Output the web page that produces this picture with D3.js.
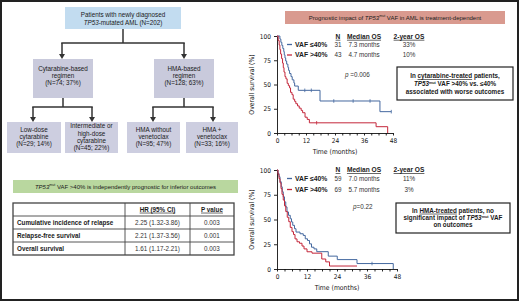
<!DOCTYPE html>
<html><head><meta charset="utf-8">
<script src="https://cdn.jsdelivr.net/npm/d3@7"></script>
<style>
body{margin:0;background:#fff}
svg{display:block;font-family:'Liberation Sans',Arial,sans-serif}
.ax text{font-family:'Liberation Sans Narrow','DejaVu Sans Condensed','Liberation Sans',sans-serif;font-size:6.5px;fill:#111}
.ax path,.ax line{stroke:#111;stroke-width:0.9}
</style>
</head><body><div id="chart"></div>
<script>
// ---- data ----
const topLines = ['Patients with newly diagnosed', 'mutated AML (N=202)'];
const arms = ['Cytarabine-based', 'HMA-based'];
const armN = [74, 128], armPct = [37, 63];
const subLines = [['Low-dose','cytarabine'], ['Intermediate or','high-dose','cytarabine'], ['HMA without','venetoclax'], ['HMA +','venetoclax']];
const subN = [29, 45, 95, 33], subPct = [14, 22, 47, 16];

const rowNames = ['Cumulative incidence of relapse', 'Relapse-free survival', 'Overall survival'];
const hrCI = ['2.25 (1.32-3.86)', '2.21 (1.37-3.56)', '1.61 (1.17-2.21)'];
const pVals = ['0.003', '0.001', '0.003'];

const groups = ['VAF \u226440%', 'VAF >40%'];
const monthTicks = [0, 12, 24, 36, 48];
const survTicks = [0, 25, 50, 75, 100];

// cytarabine-treated: [month, % surviving] after each step
const cytLow = [[0,100],[1.2,96.8],[1.6,93.5],[2.0,90.3],[2.4,87.1],[2.8,83.9],[3.0,80.6],[3.3,77.4],[3.6,74.2],[4.0,71.0],[4.5,67.7],[4.8,64.5],[5.2,61.3],[5.8,58.1],[6.3,54.8],[7.0,51.6],[7.3,48.4],[8.8,44.0],[17.8,33.0],[42.6,22.0],[47.3,22.0]];
const cytHigh = [[0,100],[0.5,95.3],[0.9,90.7],[1.2,86.0],[1.5,81.4],[1.9,76.7],[2.3,72.1],[2.6,67.4],[2.9,62.8],[3.3,58.1],[3.7,55.8],[4.2,51.2],[4.7,48.8],[5.2,46.5],[5.6,41.9],[6.2,39.5],[6.7,34.9],[7.3,32.6],[7.8,30.2],[8.5,27.9],[9.2,25.6],[10.0,23.3],[10.6,20.9],[11.6,16.3],[12.5,14.0],[13.4,10.5],[41.0,6.5],[45.8,0]];
const cytLowCens = [[11.5,44],[14.2,44],[23.5,33],[31.5,33],[38.5,33],[47.3,22]];
const cytHighCens = [[16.4,10.5]];
const cytN = [31, 43], cytMed = ['7.3 months', '4.7 months'], cyt2y = ['33%', '10%'];

// HMA-treated
const hmaLow = [[0,100],[0.4,96.6],[0.8,93.2],[1.2,88.1],[1.7,83.0],[2.1,78.0],[2.5,72.9],[3.0,67.8],[3.5,62.7],[4.0,57.6],[4.6,54.2],[5.3,50.8],[5.8,47.5],[6.3,44.1],[7.0,40.7],[7.6,37.3],[9.2,35.6],[10.5,33.9],[11.3,30.5],[12.2,28.8],[13.0,25.4],[13.8,22.0],[14.8,20.3],[15.9,17.5],[20.5,13.0],[24.1,9.5],[32.0,5.5],[46.5,0]];
const hmaHigh = [[0,100],[0.4,95.7],[0.8,91.3],[1.2,87.0],[1.6,81.2],[2.0,75.4],[2.5,69.6],[3.0,63.8],[3.5,58.0],[4.1,52.2],[4.7,47.8],[5.3,42.0],[6.0,37.7],[6.6,34.8],[7.2,30.4],[8.0,27.5],[9.0,26.0],[10.0,23.2],[10.8,20.3],[12.0,17.4],[14.0,16.0],[17.9,10.1],[19.5,7.2],[21.0,3.0],[32.0,3.0]];
const hmaLowCens = [[38,5.5]];
const hmaHighCens = [];
const hmaN = [59, 69], hmaMed = ['7.0 months', '5.7 months'], hma2y = ['11%', '3%'];

const BLUE = '#44689f', RED = '#c4273b';

// ---- helpers ----
const svg = d3.select('#chart').append('svg').attr('width',520).attr('height',301);

function rich(sel, x, y, parts, o={}){
  const size = o.size || 6.3;
  const t = sel.append('text').attr('x',x).attr('y',y).attr('dy','0.35em')
    .attr('text-anchor', o.anchor || 'middle').attr('fill', o.fill || '#1a1a1a')
    .style('font-size', size+'px').style('font-weight', o.bold ? 'bold' : 'normal');
  let wasSup = false;
  (typeof parts === 'string' ? [parts] : parts).forEach(p=>{
    if(typeof p === 'string') p = {t:p};
    const s = t.append('tspan').text(p.t);
    if(p.i) s.style('font-style','italic');
    if(p.u) s.style('text-decoration','underline');
    if(p.sup){ s.attr('dy',-2.2).style('font-size',(size*0.6)+'px'); }
    else if(wasSup) s.attr('dy',2.2);
    wasSup = !!p.sup;
  });
  return t;
}
function box(x0,y0,x1,y1,fill,lines,cy,lh){
  svg.append('rect').attr('x',x0).attr('y',y0).attr('width',x1-x0).attr('height',y1-y0).attr('fill',fill);
  lines.forEach((l,i)=>rich(svg,(x0+x1)/2, cy-(lines.length-1)*lh/2+i*lh, l));
}
function arrow(x, y0, y1){
  svg.append('line').attr('x1',x).attr('x2',x).attr('y1',y0).attr('y2',y1-4).attr('stroke','#333').attr('stroke-width',1.5);
  svg.append('path').attr('d',`M${x-3},${y1-5}L${x+3},${y1-5}L${x},${y1}Z`).attr('fill','#333');
}
function hline(x0,x1,y){ svg.append('line').attr('x1',x0-0.75).attr('x2',x1+0.75).attr('y1',y).attr('y2',y).attr('stroke','#333').attr('stroke-width',1.5); }
function vline(x,y0,y1){ svg.append('line').attr('x1',x).attr('x2',x).attr('y1',y0).attr('y2',y1).attr('stroke','#333').attr('stroke-width',1.5); }

// ---- flowchart ----
box(65,7,181,29,'#c2dcf0',[topLines[0],[{t:'TP53',i:1},'-'+topLines[1]]],18.5,7.6);
vline(123,29,43); hline(62,184,43); arrow(62,43,59); arrow(184,43,59);

const armX = [[33,93],[154,214]];
arms.forEach((a,i)=>{
  box(armX[i][0],59,armX[i][1],98,'#c9cadc',[a,'regimen',`(N=${armN[i]}; ${armPct[i]}%)`],76,7.2);
  const cx = (armX[i][0]+armX[i][1])/2;
  vline(cx,98,107);
});
hline(33,92,107); hline(153,213,107);
[33,92,153,213].forEach(x=>arrow(x,107,122));

const subX = [[7,61],[65,118],[127,180],[186,238]];
subLines.forEach((l,i)=>{
  box(subX[i][0],122,subX[i][1],153,'#cdcee0',[...l,`(N=${subN[i]}; ${subPct[i]}%)`],137,7.2);
});

// ---- green banner + table ----
svg.append('rect').attr('x',13).attr('y',180).attr('width',225).attr('height',13).attr('fill','#b9d79f');
rich(svg,125.5,186.5,[{t:'TP53',i:1},{t:'mut',sup:1},' VAF >40% is independently prognostic for inferior outcomes'],{size:6});

const tx0=13, tx1=234, c1=125, c2=190, ty=[203,216,229,242,255];
const tbl = svg.append('g').attr('stroke','#444').attr('fill','none');
tbl.append('rect').attr('x',tx0).attr('y',ty[0]).attr('width',tx1-tx0).attr('height',ty[4]-ty[0]).attr('stroke-width',1.3);
[ty[1],ty[2],ty[3]].forEach(y=>tbl.append('line').attr('x1',tx0).attr('x2',tx1).attr('y1',y).attr('y2',y).attr('stroke-width',0.9));
[c1,c2].forEach(x=>tbl.append('line').attr('x1',x).attr('x2',x).attr('y1',ty[0]).attr('y2',ty[4]).attr('stroke-width',0.9));
rich(svg,(c1+c2)/2,(ty[0]+ty[1])/2,[{t:'HR (95% CI)',u:1}],{bold:1});
rich(svg,(c2+tx1)/2,(ty[0]+ty[1])/2,[{t:'P value',u:1}],{bold:1});
rowNames.forEach((r,i)=>{
  const cy=(ty[i+1]+ty[i+2])/2;
  rich(svg,17,cy,r,{bold:1,anchor:'start'});
  rich(svg,(c1+c2)/2,cy,hrCI[i],{fill:'#333'});
  rich(svg,(c2+tx1)/2,cy,pVals[i],{fill:'#333'});
});

// ---- right panel ----
svg.append('rect').attr('x',285).attr('y',11).attr('width',220).attr('height',13).attr('fill','#d99a8f');
rich(svg,395,17.5,['Prognostic impact of ',{t:'TP53',i:1},{t:'mut',sup:1},' VAF in AML is treatment-dependent'],{size:6});

function km(c){
  const x = d3.scaleLinear().domain([0,48]).range([277,c.x48]);
  const y = d3.scaleLinear().domain([0,100]).range([c.y0,c.y100]);
  const g = svg.append('g');
  g.append('g').attr('class','ax').attr('transform',`translate(0,${c.y0})`)
    .call(d3.axisBottom(x).tickValues(d3.range(0,49,3)).tickSize(2.5).tickSizeOuter(0).tickPadding(3)
      .tickFormat(d=>monthTicks.includes(d)?d:''));
  g.append('g').attr('class','ax').attr('transform','translate(277,0)')
    .call(d3.axisLeft(y).tickValues(survTicks).tickSize(3).tickSizeOuter(0).tickPadding(3));
  g.append('text').attr('x',(277+c.x48)/2).attr('y',c.y0+19).attr('dy','0.35em').attr('text-anchor','middle')
    .style('font-family',"'Liberation Sans Narrow','DejaVu Sans Condensed',sans-serif").style('font-size','6.8px').attr('fill','#111').text('Time (months)');
  g.append('text').attr('transform',`translate(252,${(c.y0+c.y100)/2}) rotate(-90)`).attr('dy','0.35em').attr('text-anchor','middle')
    .style('font-family',"'Liberation Sans Narrow','DejaVu Sans Condensed',sans-serif").style('font-size','6.8px').attr('fill','#111').text('Overall survival (%)');

  const line = d3.line().x(d=>x(d[0])).y(d=>y(d[1])).curve(d3.curveStepAfter);
  [[c.low,c.lowC,BLUE],[c.high,c.highC,RED]].forEach(([s,cens,col])=>{
    g.append('path').datum(s).attr('d',line).attr('fill','none').attr('stroke',col).attr('stroke-width',1);
    g.selectAll(null).data(cens).join('line')
      .attr('x1',d=>x(d[0])).attr('x2',d=>x(d[0])).attr('y1',d=>y(d[1])-1.8).attr('y2',d=>y(d[1])+1.8)
      .attr('stroke',col).attr('stroke-width',0.8);
  });

  // legend / stats
  rich(g,338,c.ly[0],[{t:'N',u:1}],{bold:1,size:6.6});
  rich(g,364,c.ly[0],[{t:'Median OS',u:1}],{bold:1,size:6.6});
  rich(g,409,c.ly[0],[{t:'2-year OS',u:1}],{bold:1,size:6.6});
  groups.forEach((gr,i)=>{
    const yy = c.ly[i+1];
    g.append('line').attr('x1',287).attr('x2',292).attr('y1',yy).attr('y2',yy).attr('stroke',i?RED:BLUE).attr('stroke-width',1.3);
    rich(g,295,yy,gr,{bold:1,anchor:'start',size:6.8});
    rich(g,338,yy,String(c.n[i]),{fill:'#333'});
    rich(g,364,yy,c.med[i],{fill:'#333'});
    rich(g,409,yy,c.y2[i],{fill:'#333'});
  });
  rich(g,c.px,c.py,[{t:'p',i:1},c.p],{anchor:'start',fill:'#333'});

  // callout
  g.append('rect').attr('x',c.bx[0]).attr('y',c.bx[1]).attr('width',c.bx[2]).attr('height',c.bx[3])
    .attr('fill','#fff').attr('stroke','#222').attr('stroke-width',1.2);
  c.msg.forEach((m,i)=>rich(g,c.bx[0]+c.bx[2]/2,c.my[i],m,{bold:1,size:6.3}));
}

km({x48:393,y0:133,y100:36,low:cytLow,high:cytHigh,lowC:cytLowCens,highC:cytHighCens,
  n:cytN,med:cytMed,y2:cyt2y,ly:[36.5,44.5,55],px:345,py:74.5,p:' =0.006',
  bx:[397,67,116,33],my:[76,84,92],
  msg:[['In ',{t:'cytarabine-treated',u:1},' patients,'],[{t:'TP53',i:1},{t:'mut',sup:1},' VAF >40% vs. \u226440%'],['associated with worse outcomes']]});

km({x48:397,y0:269,y100:170,low:hmaLow,high:hmaHigh,lowC:hmaLowCens,highC:hmaHighCens,
  n:hmaN,med:hmaMed,y2:hma2y,ly:[170,178.5,189.5],px:353,py:207,p:'=0.22',
  bx:[396,203,114,30],my:[210.5,217.5,225],
  msg:[['In ',{t:'HMA-treated',u:1},' patients, no'],['significant impact of ',{t:'TP53',i:1},{t:'mut',sup:1},' VAF'],['on outcomes']]});

// frame
svg.append('rect').attr('x',1).attr('y',1).attr('width',517).attr('height',299).attr('fill','none').attr('stroke','#222').attr('stroke-width',2);
</script>
</body></html>
